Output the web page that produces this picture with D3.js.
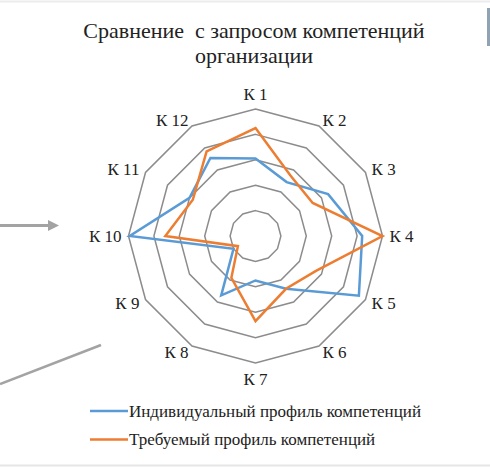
<!DOCTYPE html>
<html>
<head>
<meta charset="utf-8">
<script src="https://cdn.jsdelivr.net/npm/d3@7"></script>
<style>
  body { margin: 0; background: #fff; }
</style>
</head>
<body>
<script>
const categories = ["К 1", "К 2", "К 3", "К 4", "К 5", "К 6", "К 7", "К 8", "К 9", "К 10", "К 11", "К 12"];
const individual = [3.05, 2.45, 3.3, 4.2, 4.7, 2.4, 1.75, 2.7, 1.0, 4.95, 3.0, 3.55];
const required = [4.25, 2.75, 2.6, 5.0, 2.75, 2.4, 3.35, 1.9, 0.8, 3.55, 2.85, 3.85];
const seriesNames = ["Индивидуальный профиль компетенций", "Требуемый профиль компетенций"];
const rings = [1, 2, 3, 4, 5];
const titleLines = ["Сравнение  с запросом компетенций", "организации"];

const w = 490, h = 469;
const cx = 255.5, cy = 236, R = 127;
const colors = ["#5b9bd5", "#ed7d31"];

const svg = d3.select("body").append("svg").attr("width", w).attr("height", h)
  .attr("font-family", "Liberation Serif").attr("fill", "#222");

// frame bits from the screenshot
svg.append("line").attr("x1", 0).attr("x2", w).attr("y1", 1.5).attr("y2", 1.5)
  .attr("stroke", "#ececec").attr("stroke-width", 2);
svg.append("line").attr("x1", 0).attr("x2", w).attr("y1", 465.5).attr("y2", 465.5)
  .attr("stroke", "#e6e6e6").attr("stroke-width", 2);
svg.append("rect").attr("x", 487).attr("y", 8).attr("width", 3).attr("height", 38).attr("fill", "#8fa3b3");

// arrows on the left
svg.append("line").attr("x1", 0).attr("y1", 225.5).attr("x2", 50).attr("y2", 225.5)
  .attr("stroke", "#a3a3a3").attr("stroke-width", 3);
svg.append("path").attr("d", "M48,220 L59,225.5 L48,231 Z").attr("fill", "#a3a3a3");
svg.append("line").attr("x1", 0).attr("y1", 384).attr("x2", 101).attr("y2", 345)
  .attr("stroke", "#a3a3a3").attr("stroke-width", 2.5);

// title
svg.append("g").selectAll("text").data(titleLines).enter().append("text")
  .attr("x", 254).attr("y", (d, i) => 38 + i * 24.5)
  .attr("text-anchor", "middle").attr("font-size", "22px")
  .style("white-space", "pre")
  .text(d => d);

const angle = d3.scaleBand().domain(categories).range([0, 2 * Math.PI]).align(0);
const ang = (c) => angle(c);
const r = d3.scaleLinear().domain([0, 5]).range([0, R]);

const g = svg.append("g").attr("transform", `translate(${cx},${cy})`);

// grid rings
const radar = d3.lineRadial().angle(d => ang(d.c)).radius(d => r(d.v)).curve(d3.curveLinearClosed);
g.append("g").selectAll("path").data(rings).enter().append("path")
  .attr("d", v => radar(categories.map(c => ({ c: c, v: v }))))
  .attr("fill", "none").attr("stroke", "#8c8c8c").attr("stroke-width", 1.5);

// series
const series = [individual, required];
g.append("g").selectAll("path").data(series).enter().append("path")
  .attr("d", s => radar(categories.map((c, i) => ({ c: c, v: s[i] }))))
  .attr("fill", "none")
  .attr("stroke", (d, i) => colors[i])
  .attr("stroke-width", 2.5);

// category labels
const lr = R + 7;
g.append("g").selectAll("text").data(categories).enter().append("text")
  .attr("x", c => lr * Math.sin(ang(c)))
  .attr("y", c => {
    const co = Math.cos(ang(c));
    let y = -lr * co;
    if (co > 0.9) y -= 8;
    if (co < -0.9) y += 9;
    return y;
  })
  .attr("dy", "0.35em")
  .attr("text-anchor", c => {
    const s = Math.sin(ang(c));
    return s > 0.1 ? "start" : (s < -0.1 ? "end" : "middle");
  })
  .attr("font-size", "17px")
  .text(d => d);

// legend
const leg = svg.append("g").selectAll("g").data(seriesNames).enter().append("g")
  .attr("transform", (d, i) => `translate(90,${411 + i * 28.5})`);
leg.append("line").attr("x1", 0).attr("x2", 38).attr("y1", 0).attr("y2", 0)
  .attr("stroke", (d, i) => colors[i]).attr("stroke-width", 2.5);
leg.append("text").attr("x", 39).attr("dy", "0.33em").attr("font-size", "17px").text(d => d);
</script>
</body>
</html>
